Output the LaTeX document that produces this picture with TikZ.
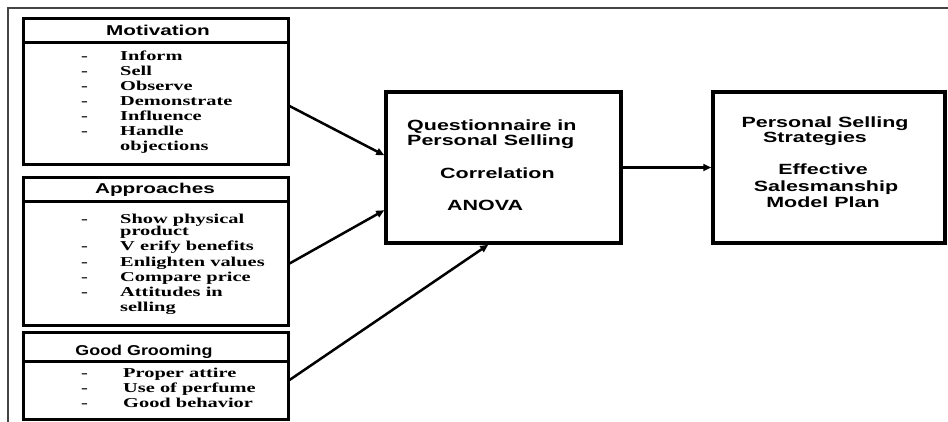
\documentclass[tikz,border=0pt]{standalone}
\usepackage{fontspec}
\usetikzlibrary{arrows.meta}
\newfontfamily\hdrfont[FakeStretch=1.45]{Liberation Sans}
\newfontfamily\cenfont[FakeStretch=1.45]{Liberation Sans}
\newfontfamily\hdrnarrow[FakeStretch=1.25]{Liberation Sans}
\newfontfamily\itemfont[FakeStretch=1.5]{Liberation Serif}
\definecolor{framegray}{HTML}{444444}
\tikzset{
  box/.style={draw, line width=3pt, inner sep=0pt, minimum width=265pt},
  bigbox/.style={draw, line width=3.5pt, inner sep=0pt},
  hdr/.style={font=\hdrfont\bfseries\fontsize{14.3}{15}\selectfont, inner sep=0pt, anchor=base},
  cen/.style={font=\cenfont\bfseries\fontsize{14.8}{15}\selectfont, inner sep=0pt},
  item/.style={font=\itemfont\bfseries\fontsize{13.6}{15}\selectfont, inner sep=0pt, anchor=base west},
  arr/.style={line width=2.5pt, -{Triangle[length=8pt,width=7pt]}}
}
\begin{document}
\begin{tikzpicture}[x=1pt,y=-1pt]
\useasboundingbox (0,0) rectangle (948,422);
% outer frame
\draw[framegray, line width=1.3pt] (948,8) -- (8,8) -- (8,422);

% Motivation
\node[box, minimum height=24pt] (mh) at (155.5,31) {};
\node[box, minimum height=122pt] (mb) at (155.5,104) {};
\node[hdr] (mt) at (158,35.5) {Motivation};
\node[item] (m1d) at (81,61) {-};  \node[item] (m1) at (120,61) {Inform};
\node[item] (m2d) at (81,76) {-};  \node[item] (m2) at (120,76) {Sell};
\node[item] (m3d) at (81,91) {-};  \node[item] (m3) at (120,91) {Observe};
\node[item] (m4d) at (81,106) {-}; \node[item] (m4) at (120,106) {Demonstrate};
\node[item] (m5d) at (81,121) {-}; \node[item] (m5) at (120,121) {Influence};
\node[item] (m6d) at (81,136) {-}; \node[item] (m6) at (120,136) {Handle};
\node[item] (m7) at (120,151) {objections};

% Approaches
\node[box, minimum height=24pt] (ah) at (155.5,190) {};
\node[box, minimum height=123pt] (ab) at (155.5,263.5) {};
\node[hdr] (at) at (155,194) {Approaches};
\node[item] (a1d) at (81,224) {-}; \node[item] (a1) at (120,224) {Show physical};
\node[item] (a2) at (120,236) {product};
\node[item] (a3d) at (81,251) {-}; \node[item] (a3) at (120,251) {V erify benefits};
\node[item] (a4d) at (81,266) {-}; \node[item] (a4) at (120,266) {Enlighten values};
\node[item] (a5d) at (81,281) {-}; \node[item] (a5) at (120,281) {Compare price};
\node[item] (a6d) at (81,296) {-}; \node[item] (a6) at (120,296) {Attitudes in};
\node[item] (a7) at (120,311) {selling};

% Good Grooming
\node[box, minimum height=29pt] (gh) at (155.5,346.5) {};
\node[box, minimum height=58pt] (gb) at (155.5,390) {};
\node[hdr, font=\hdrnarrow\bfseries\fontsize{14.3}{15}\selectfont] (gt) at (144,355.5) {Good Grooming};
\node[item] (g1d) at (81,377) {-}; \node[item] (g1) at (123,377) {Proper attire};
\node[item] (g2d) at (81,392) {-}; \node[item] (g2) at (123,392) {Use of perfume};
\node[item] (g3d) at (81,407) {-}; \node[item] (g3) at (123,407) {Good behavior};

% Centre box
\node[bigbox, minimum width=235pt, minimum height=151pt] (cb) at (503.5,167.5) {};
\node[cen, anchor=base west] (q1) at (407,131) {Questionnaire in};
\node[cen, anchor=base west] (q2) at (407,146) {Personal Selling};
\node[cen, anchor=base west] (q3) at (440,179) {Correlation};
\node[cen, anchor=base west] (q4) at (447,211) {ANOVA};

% Right box
\node[bigbox, minimum width=232pt, minimum height=151pt] (rb) at (829,167.5) {};
\node[cen, anchor=base] (r1) at (825,128) {Personal Selling};
\node[cen, anchor=base] (r2) at (815,143) {Strategies};
\node[cen, anchor=base] (r3) at (823,175) {Effective};
\node[cen, anchor=base] (r4) at (826,192) {Salesmanship};
\node[cen, anchor=base] (r5) at (823,208) {Model Plan};

% Connectors
\draw[arr] ([yshift=-2pt]mb.east) -- ([yshift=-65pt]cb.north west);
\draw[arr] (ab.east) -- ([yshift=-120pt]cb.north west);
\draw[arr] ([yshift=10pt]gb.east) -- ([xshift=104pt]cb.south west);
\draw[arr] (cb.east) -- (rb.west);
\end{tikzpicture}
\end{document}
